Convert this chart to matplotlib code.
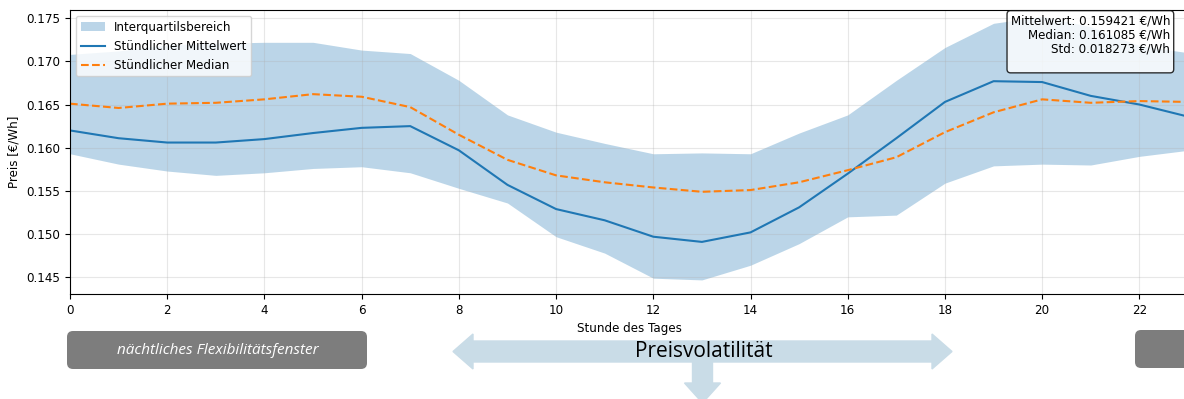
import matplotlib
matplotlib.use('Agg')
import matplotlib.pyplot as plt
from matplotlib.patches import FancyBboxPatch, FancyArrow

hours = list(range(24))
mean_price = [0.1620, 0.1611, 0.1606, 0.1606, 0.1610, 0.1617, 0.1623, 0.1625,
              0.1597, 0.1557, 0.1529, 0.1516, 0.1497, 0.1491, 0.1502, 0.1531,
              0.1570, 0.1611, 0.1653, 0.1677, 0.1676, 0.1660, 0.1650, 0.1636]
median_price = [0.1651, 0.1646, 0.1651, 0.1652, 0.1656, 0.1662, 0.1659, 0.1647,
                0.1615, 0.1586, 0.1568, 0.1560, 0.1554, 0.1549, 0.1551, 0.1560,
                0.1574, 0.1589, 0.1618, 0.1641, 0.1656, 0.1652, 0.1654, 0.1653]
q25 = [0.1593, 0.1581, 0.1573, 0.1568, 0.1571, 0.1576, 0.1578, 0.1571,
       0.1553, 0.1536, 0.1497, 0.1478, 0.1449, 0.1447, 0.1464, 0.1489,
       0.1520, 0.1522, 0.1559, 0.1579, 0.1581, 0.1580, 0.1590, 0.1597]
q75 = [0.1708, 0.1712, 0.1719, 0.1721, 0.1722, 0.1722, 0.1713, 0.1709,
       0.1678, 0.1638, 0.1618, 0.1605, 0.1593, 0.1594, 0.1593, 0.1617,
       0.1638, 0.1678, 0.1716, 0.1744, 0.1752, 0.1740, 0.1718, 0.1710]

stats_text = 'Mittelwert: 0.159421 €/Wh\nMedian: 0.161085 €/Wh\nStd: 0.018273 €/Wh\n'

fs = 8.6
fig = plt.figure(figsize=(11.84, 3.99), dpi=100)
ax = fig.add_axes([70/1184, 105/399, 1118/1184, 284/399])

ax.fill_between(hours, q25, q75, color='#1f77b4', alpha=0.3, linewidth=0, label='Interquartilsbereich')
ax.plot(hours, mean_price, color='#1f77b4', linewidth=1.5, label='Stündlicher Mittelwert')
ax.plot(hours, median_price, color='#ff7f0e', linewidth=1.5, linestyle='--', label='Stündlicher Median')

ax.set_xlim(0, 23)
ax.set_ylim(0.14307, 0.17594)
ax.set_xticks(range(0, 24, 2))
ax.set_yticks([0.145, 0.150, 0.155, 0.160, 0.165, 0.170, 0.175])
ax.tick_params(labelsize=fs)
ax.set_xlabel('Stunde des Tages', fontsize=fs)
ax.set_ylabel('Preis [€/Wh]', fontsize=fs)
ax.grid(True, alpha=0.3)
ax.legend(loc='upper left', fontsize=fs)
ax.text(0.984, 0.985, stats_text, transform=ax.transAxes, fontsize=fs,
        ha='right', va='top', linespacing=1.1,
        bbox=dict(boxstyle='round', facecolor='white', alpha=0.8, edgecolor='black'))

# slide overlay below the chart (inch coordinates)
tr = fig.dpi_scale_trans
gray = '#7d7d7d'
arrow_col = '#c9dce7'
fig.patches.append(FancyBboxPatch((0.67, 0.30), 3.0, 0.38, boxstyle='round,pad=0,rounding_size=0.06',
                                  facecolor=gray, edgecolor='none', transform=tr, figure=fig))
fig.patches.append(FancyBboxPatch((11.35, 0.31), 1.0, 0.38, boxstyle='round,pad=0,rounding_size=0.06',
                                  facecolor=gray, edgecolor='none', transform=tr, figure=fig))
fig.text(2.18, 0.485, 'nächtliches Flexibilitätsfenster', transform=tr, ha='center', va='center',
         color='white', fontsize=11, style='italic', family='Open Sans')

fig.patches.append(FancyArrow(7.025, 0.40, 0, -0.44, width=0.2, head_width=0.36, head_length=0.2,
                              length_includes_head=True, color=arrow_col, transform=tr, figure=fig))
fig.patches.append(FancyArrow(7.02, 0.475, 2.50, 0, width=0.21, head_width=0.35, head_length=0.2,
                              length_includes_head=True, color=arrow_col, transform=tr, figure=fig))
fig.patches.append(FancyArrow(7.04, 0.475, -2.51, 0, width=0.21, head_width=0.35, head_length=0.2,
                              length_includes_head=True, color=arrow_col, transform=tr, figure=fig))
fig.text(7.035, 0.475, 'Preisvolatilität', transform=tr, ha='center', va='center',
         color='black', fontsize=15, family='Open Sans')

fig.savefig('out.png', dpi=100)
plt.close(fig)
